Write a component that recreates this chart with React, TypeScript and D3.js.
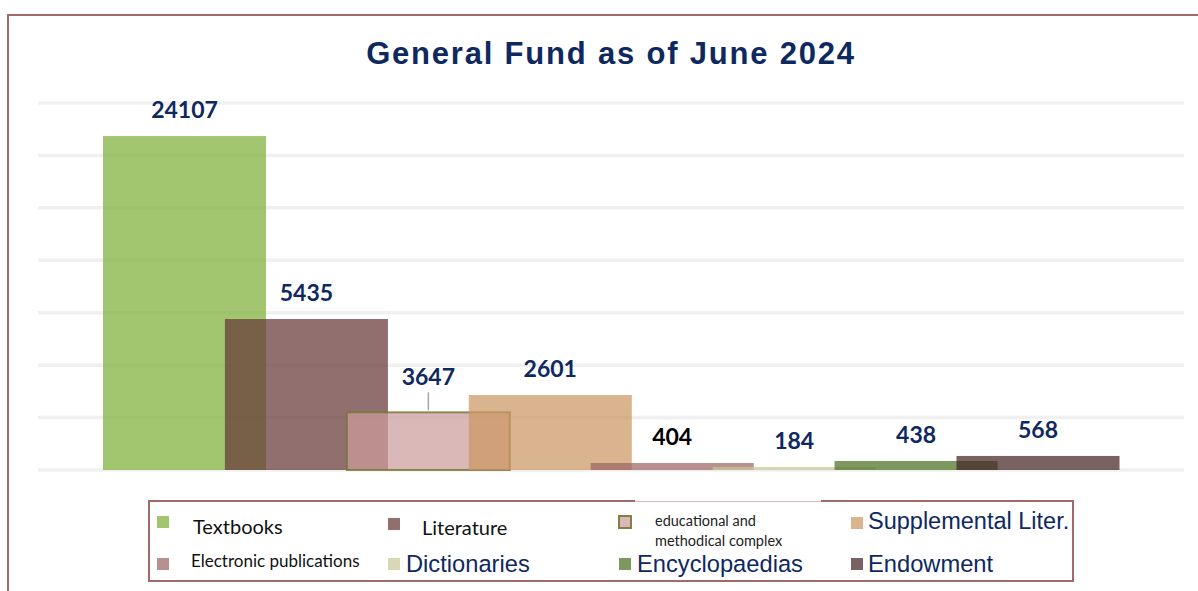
import React from "react";
import * as d3 from "d3";

const categories = [
  "Textbooks",
  "Literature",
  "educational and methodical complex",
  "Supplemental Liter.",
  "Electronic publications",
  "Dictionaries",
  "Encyclopaedias",
  "Endowment",
];
// values printed on the bars
const labelValues = [24107, 5435, 3647, 2601, 404, 184, 438, 568];
// bar heights as read against the gridlines (grid step 5000)
const plottedValues = [31850, 14400, 5500, 7150, 670, 290, 860, 1340];
const gridTicks = [0, 5000, 10000, 15000, 20000, 25000, 30000, 35000];
const barColors = [
  "rgb(126,176,55)",
  "rgb(104,56,56)",
  "rgb(205,156,156)",
  "rgb(204,151,98)",
  "rgb(156,101,101)",
  "rgb(201,201,151)",
  "rgb(76,113,34)",
  "rgb(68,37,37)",
];

const W = 1198;
const H = 591;
const NAVY = "#0e2860";

export default function App() {
  const x = d3.scalePoint<string>().domain(categories).range([184.5, 1038]);
  const step = x.step();
  const barW = step * 1.337;
  const y = d3.scaleLinear().domain([0, 35000]).range([470, 103]);

  const legendRows = [
    [
      { i: 0, sx: 157, sy: 516, tx: 193, ty: 534, size: 20, font: "Lato", color: "#111" },
      { i: 1, sx: 388, sy: 518, tx: 422, ty: 535, size: 20, font: "Lato", color: "#111" },
      { i: 2, sx: 619, sy: 516, tx: 655, ty: 526, size: 14.5, font: "Lato", color: "#222", lines: ["educational and", "methodical complex"] },
      { i: 3, sx: 851, sy: 517, tx: 868, ty: 529, size: 23.5, font: "Liberation Sans", color: NAVY },
    ],
    [
      { i: 4, sx: 157, sy: 558, tx: 191, ty: 567, size: 17, font: "Lato", color: "#111" },
      { i: 5, sx: 388, sy: 558, tx: 406, ty: 572, size: 23.7, font: "Liberation Sans", color: NAVY },
      { i: 6, sx: 619, sy: 558, tx: 637, ty: 572, size: 23.7, font: "Liberation Sans", color: NAVY },
      { i: 7, sx: 851, sy: 558, tx: 868, ty: 572, size: 23.7, font: "Liberation Sans", color: NAVY },
    ],
  ];

  return (
    <svg
      width={W}
      height={H}
      style={{ position: "absolute", left: 0, top: 0, background: "#fff" }}
    >
      {/* outer frame */}
      <rect x={8} y={15} width={W + 20} height={H + 20} fill="#fff" stroke="#a36a6a" strokeWidth={2} />

      <text
        x={611}
        y={64}
        textAnchor="middle"
        fontFamily="Liberation Sans, Arial, sans-serif"
        fontWeight="bold"
        fontSize={31}
        letterSpacing={1.8}
        fill={NAVY}
      >
        General Fund as of June 2024
      </text>

      {/* gridlines */}
      {gridTicks.map((t) => (
        <line key={t} x1={38} x2={1184} y1={y(t)} y2={y(t)} stroke="#f0f0f0" strokeWidth={3.5} />
      ))}

      {/* bars */}
      {categories.map((c, i) => (
        <rect
          key={c}
          x={x(c)! - barW / 2}
          y={y(plottedValues[i])}
          width={barW}
          height={y(0) - y(plottedValues[i])}
          fill={barColors[i]}
          fillOpacity={0.72}
          stroke={i === 2 ? "rgba(120,115,50,0.8)" : "none"}
          strokeWidth={i === 2 ? 2 : 0}
        />
      ))}

      {/* value labels */}
      {categories.map((c, i) => {
        const top = y(plottedValues[i]);
        const lead = i === 2;
        const base = lead ? top - 27 : top - 18;
        return (
          <g key={c}>
            {lead && (
              <line x1={x(c)!} x2={x(c)!} y1={top - 20} y2={top - 2} stroke="#a6a6a6" strokeWidth={1.5} />
            )}
            <text
              x={x(c)!}
              y={base}
              textAnchor="middle"
              fontFamily="Lato, sans-serif"
              fontWeight="bold"
              fontSize={23}
              fill={i === 4 ? "#000" : NAVY}
            >
              {labelValues[i]}
            </text>
          </g>
        );
      })}

      {/* legend */}
      <rect x={149} y={501} width={924} height={80} fill="none" stroke="#a06a6a" strokeWidth={2} />
      <rect x={635} y={499} width={186} height={4} fill="#fff" />
      <line x1={635} x2={821} y1={501.5} y2={501.5} stroke="#d2bcbc" strokeWidth={1} />
      {legendRows.flat().map((it: any) => (
        <g key={it.i}>
          <rect
            x={it.sx}
            y={it.sy}
            width={12}
            height={12}
            fill={barColors[it.i]}
            fillOpacity={0.72}
            stroke={it.i === 2 ? "rgba(120,115,50,0.9)" : "none"}
            strokeWidth={it.i === 2 ? 2 : 0}
          />
          <text
            x={it.tx}
            y={it.ty}
            fontFamily={it.font + ", sans-serif"}
            fontSize={it.size}
            fill={it.color}
          >
            {it.lines
              ? it.lines.map((l: string, k: number) => (
                  <tspan key={k} x={it.tx} dy={k === 0 ? 0 : 20}>
                    {l}
                  </tspan>
                ))
              : categories[it.i]}
          </text>
        </g>
      ))}
    </svg>
  );
}
